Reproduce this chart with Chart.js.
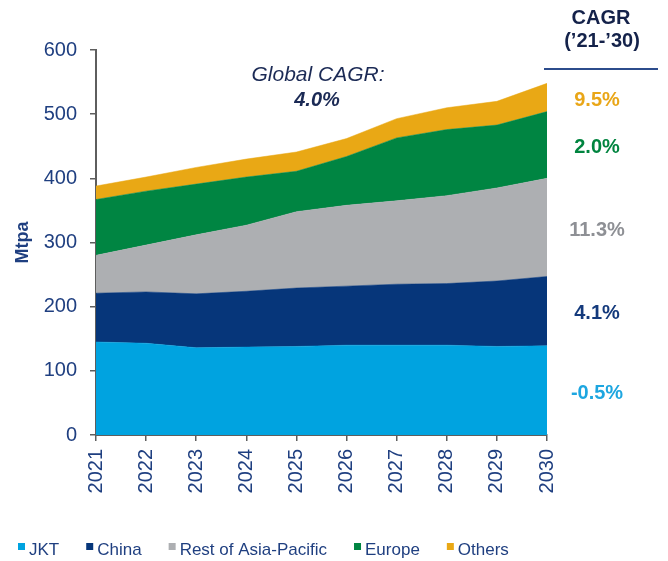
<!DOCTYPE html>
<html><head><meta charset="utf-8">
<script src="https://cdn.jsdelivr.net/npm/chart.js@4.4.1/dist/chart.umd.min.js"></script>
<style>html,body{margin:0;padding:0;background:#fff;} #wrap{width:668px;height:561px;position:relative}</style>
</head><body><div id="wrap"><canvas id="c" width="668" height="561"></canvas></div>
<script>
const years = ['2021','2022','2023','2024','2025','2026','2027','2028','2029','2030'];
const jkt      = [145,143,136,137,138,140,140,140,138,139];
const china    = [76,80,84,87,91,92,95,96,102,108];
const restAPAC = [59,73,92,103,119,126,130,137,145,153];
const europe   = [87,84,79,75,63,76,98,103,98,104];
const others   = [21,22,26,28,30,28,30,34,37,44];
const seriesNames  = ['JKT','China','Rest of Asia-Pacific','Europe','Others'];
const seriesColors = ['#00A3E0','#06367A','#ADAFB2','#008542','#E9A815'];
const cagrLabels   = ['-0.5%','4.1%','11.3%','2.0%','9.5%'];
const cagrColors   = ['#1DA6E0','#143A7C','#8E9095','#00843F','#E9A617'];
const cagrY        = [393,313,230,147,100];
const cagrTitle    = ['CAGR','(\u201921-\u201930)'];
const globalTitle  = 'Global CAGR:';
const globalValue  = '4.0%';
const yTicks = [0,100,200,300,400,500,600];

const FONT = "'Liberation Sans', Arial, Helvetica, sans-serif";
const NAVY = '#1F3F80';
const AXIS = '#5E5E5E';

const values = [jkt, china, restAPAC, europe, others];
const datasets = values.map((v,i)=>({
  label: seriesNames[i],
  data: v,
  backgroundColor: seriesColors[i],
  borderColor: seriesColors[i],
  borderWidth: 0.5,
  pointRadius: 0,
  fill: i===0 ? 'origin' : '-1',
  tension: 0
}));

const annot = {
  id: 'annot',
  afterDraw(chart){
    const ctx = chart.ctx;
    ctx.save();
    // Global CAGR
    ctx.textAlign = 'center';
    ctx.textBaseline = 'middle';
    ctx.fillStyle = '#1B2A55';
    ctx.font = `italic 21px ${FONT}`;
    ctx.fillText(globalTitle, 318, 75);
    ctx.font = `italic bold 20px ${FONT}`;
    ctx.fillText(globalValue, 317, 100);
    // CAGR header
    ctx.fillStyle = '#14224A';
    ctx.font = `bold 20px ${FONT}`;
    ctx.fillText(cagrTitle[0], 601, 18);
    ctx.fillText(cagrTitle[1], 602, 41);
    ctx.strokeStyle = '#2C4C8C';
    ctx.lineWidth = 2;
    ctx.beginPath(); ctx.moveTo(544, 69); ctx.lineTo(658, 69); ctx.stroke();
    // CAGR values
    ctx.font = `bold 20px ${FONT}`;
    cagrLabels.forEach((t,i)=>{
      ctx.fillStyle = cagrColors[i];
      ctx.fillText(t, 597, cagrY[i]);
    });
    // Legend
    ctx.font = `17px ${FONT}`;
    ctx.textAlign = 'left';
    ctx.textBaseline = 'alphabetic';
    let x = 18;
    chart.data.datasets.forEach(ds=>{
      ctx.fillStyle = ds.backgroundColor;
      ctx.fillRect(x, 543, 7, 7);
      ctx.fillStyle = NAVY;
      ctx.fillText(ds.label, x+11, 555);
      x += 11 + ctx.measureText(ds.label).width + 27;
    });
    ctx.restore();
  }
};

new Chart(document.getElementById('c'), {
  type: 'line',
  data: { labels: years, datasets },
  plugins: [annot],
  options: {
    responsive: false,
    animation: false,
    layout: { padding: { top: 50, right: 121, bottom: 66, left: 0 } },
    plugins: { legend: { display: false }, tooltip: { enabled: false } },
    elements: { line: { borderJoinStyle: 'miter' } },
    scales: {
      x: {
        offset: false,
        grid: { drawOnChartArea: false, drawTicks: true, tickLength: 6, color: AXIS, lineWidth: 1.5 },
        border: { display: true, color: AXIS, width: 2 },
        ticks: { color: NAVY, font: { family: FONT, size: 20 }, maxRotation: 90, minRotation: 90, padding: 8, autoSkip: false },
        afterFit(s){ s.height = 60; }
      },
      y: {
        stacked: true,
        min: 0, max: 600,
        afterBuildTicks(s){ s.ticks = yTicks.map(v=>({value:v})); },
        grid: { drawOnChartArea: false, drawTicks: true, tickLength: 6, color: AXIS, lineWidth: 1.5 },
        border: { display: true, color: AXIS, width: 2 },
        ticks: { color: NAVY, font: { family: FONT, size: 20 }, padding: 13 },
        title: { display: true, text: 'Mtpa', color: NAVY, font: { family: FONT, size: 18, weight: 'bold' }, padding: { top: 12, bottom: 0 } },
        afterFit(s){ s.width = 96; }
      }
    }
  }
});
</script>
</body></html>
